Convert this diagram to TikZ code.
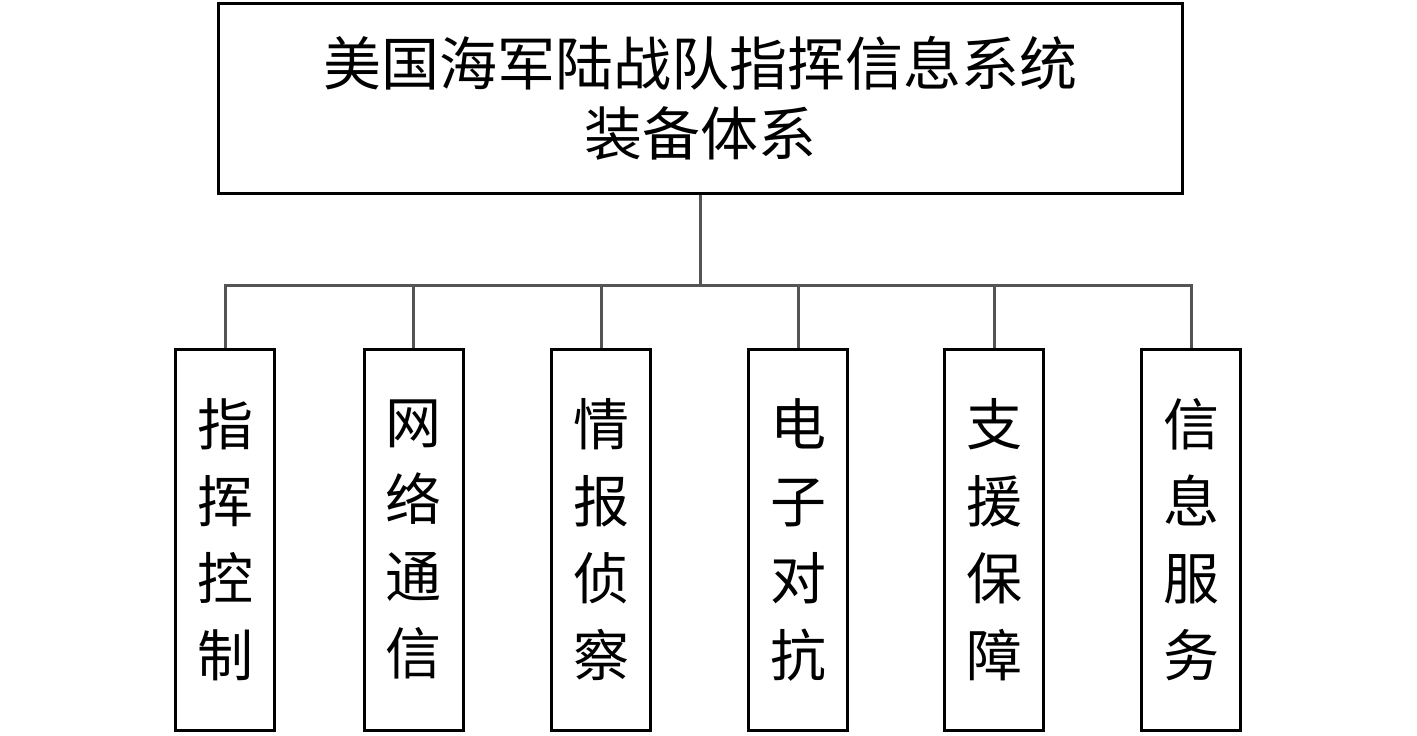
\documentclass[tikz,border=0pt]{standalone}
\usepackage{fontspec}
\newfontfamily\cjk{Noto Sans CJK SC}
\begin{document}
\begin{tikzpicture}[x=0.5pt,y=-0.5pt,
  box/.style={draw=black,line width=1.5pt,fill=white,inner sep=0pt,align=center},
  topbox/.style={box,minimum width=482pt,minimum height=95pt,font=\cjk\fontsize{29}{35}\selectfont},
  childbox/.style={box,minimum width=49.5pt,minimum height=190.5pt,font=\cjk\fontsize{28}{38.5}\selectfont},
  conn/.style={draw=black!67,line width=1.5pt}]
\useasboundingbox (0,0) rectangle (1417,735);
\node[topbox] (top) at (700,98) {美国海军陆战队指挥信息系统\\装备体系};
\coordinate (bus) at (700,285);
\node[childbox] (c1) at (225,539.5) {指\\挥\\控\\制};
\node[childbox] (c2) at (413.5,539.5) {网\\络\\通\\信};
\node[childbox] (c3) at (601,539.5) {情\\报\\侦\\察};
\node[childbox] (c4) at (798,539.5) {电\\子\\对\\抗};
\node[childbox] (c5) at (994,539.5) {支\\援\\保\\障};
\node[childbox] (c6) at (1191,539.5) {信\\息\\服\\务};
\draw[conn] (top.south) -- (bus);
\foreach \i in {1,...,6} { \draw[conn] (bus) -| (c\i.north); }
\end{tikzpicture}
\end{document}
